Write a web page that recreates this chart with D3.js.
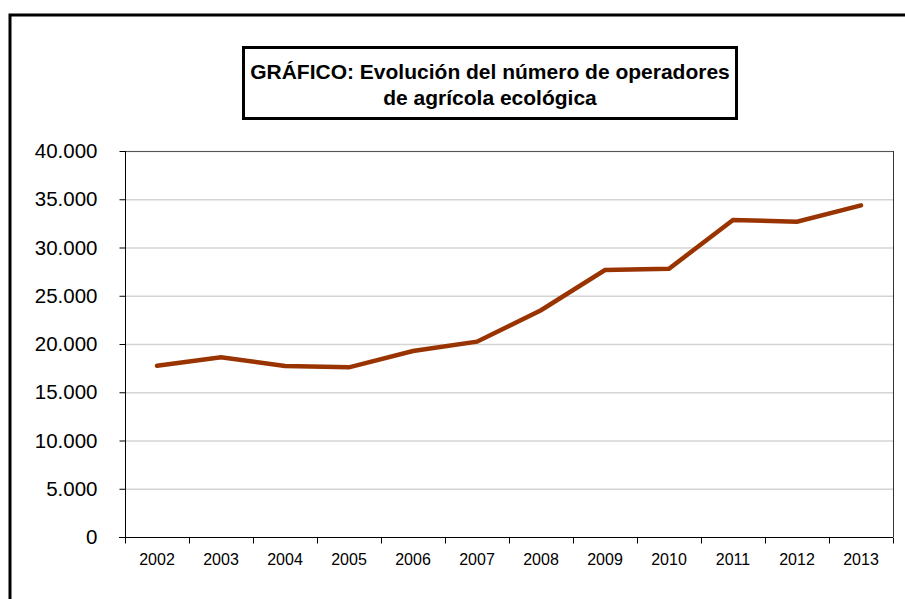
<!DOCTYPE html>
<html>
<head>
<meta charset="utf-8">
<script src="https://cdn.jsdelivr.net/npm/d3@7"></script>
<style>
  body { margin: 0; background: #fff; }
  svg { display: block; font-family: Arial, "Liberation Sans", sans-serif; }
</style>
</head>
<body>
<svg id="canvas" width="905" height="599"></svg>
<script>
// datos
let years = ['2002','2003','2004','2005','2006','2007','2008','2009','2010','2011','2012','2013']
let operadores = [17750, 18620, 17720, 17580, 19270, 20240, 23500, 27670, 27800, 32850, 32680, 34370]
let yTicks = [0, 5000, 10000, 15000, 20000, 25000, 30000, 35000, 40000]

let width = 905
let height = 599
let plot = {left: 125, right: 893, top: 151, bottom: 537}

let canvas = d3.select('#canvas')

// marco exterior
canvas.append('rect')
  .attr('x', 10).attr('y', 15)
  .attr('width', 920).attr('height', 620)
  .attr('fill', 'none')
  .attr('stroke', '#000')
  .attr('stroke-width', 3)

let xScale = d3.scaleBand()
  .domain(years)
  .range([plot.left, plot.right])

let yScale = d3.scaleLinear()
  .domain([0, 40000])
  .range([plot.bottom, plot.top])

let fmt = d => d3.format(',')(d).replace(/,/g, '.')

// lineas de cuadricula
canvas.append('g')
  .selectAll('line')
  .data(yTicks.filter(d => d > 0))
  .enter()
  .append('line')
  .attr('x1', plot.left).attr('x2', plot.right)
  .attr('y1', d => yScale(d) + 0.5).attr('y2', d => yScale(d) + 0.5)
  .attr('stroke', '#d4d4d4')
  .attr('stroke-width', 1.5)

// borde del area de trazado
canvas.append('line')
  .attr('x1', plot.right + 0.5).attr('x2', plot.right + 0.5)
  .attr('y1', plot.top).attr('y2', plot.bottom)
  .attr('stroke', '#333')
canvas.append('line')
  .attr('x1', plot.left).attr('x2', plot.right)
  .attr('y1', plot.top + 0.5).attr('y2', plot.top + 0.5)
  .attr('stroke', '#555')

// eje y
let yAxis = d3.axisLeft(yScale)
  .tickValues(yTicks)
  .tickFormat(fmt)
  .tickSize(6)
  .tickPadding(22)
canvas.append('g')
  .attr('transform', 'translate(' + (plot.left + 0.5) + ',0)')
  .call(yAxis)
  .call(g => g.selectAll('text').attr('font-size', 20.5).attr('fill', '#000').attr('font-family', 'Arial, "Liberation Sans", sans-serif'))
  .call(g => g.select('.domain').attr('stroke', '#000').attr('d', 'M0,' + plot.top + 'V' + plot.bottom))

// eje x, marcas entre categorias
let xAxis = d3.axisBottom(xScale).tickSize(0).tickPadding(16)
let gx = canvas.append('g')
  .attr('transform', 'translate(0,' + (plot.bottom + 0.5) + ')')
  .call(xAxis)
gx.selectAll('text').attr('font-size', 16).attr('fill', '#000').attr('font-family', 'Arial, "Liberation Sans", sans-serif')
gx.select('.domain').attr('stroke', '#000').attr('d', 'M' + (plot.left - 6) + ',0H' + plot.right)
gx.selectAll('line.sep')
  .data(years.concat(['end']))
  .enter()
  .append('line')
  .attr('class', 'sep')
  .attr('x1', (d, i) => Math.round(plot.left + i * xScale.bandwidth()) + 0.5)
  .attr('x2', (d, i) => Math.round(plot.left + i * xScale.bandwidth()) + 0.5)
  .attr('y1', 0).attr('y2', 6)
  .attr('stroke', '#000')

// linea de datos
let line = d3.line()
  .x((d, i) => xScale(years[i]) + xScale.bandwidth() / 2)
  .y(d => yScale(d))

canvas.append('path')
  .datum(operadores)
  .attr('d', line)
  .attr('fill', 'none')
  .attr('stroke', '#993300')
  .attr('stroke-width', 4.5)
  .attr('stroke-linejoin', 'miter')
  .attr('stroke-linecap', 'round')

// cuadro del titulo
canvas.append('rect')
  .attr('x', 243.5).attr('y', 47.5)
  .attr('width', 493).attr('height', 71)
  .attr('fill', '#fff')
  .attr('stroke', '#000')
  .attr('stroke-width', 3)

let title = canvas.append('text')
  .attr('text-anchor', 'middle')
  .attr('font-weight', 'bold')
  .attr('font-size', 21)
  .attr('fill', '#000')
title.append('tspan').attr('x', 490).attr('y', 79).text('GRÁFICO: Evolución del número de operadores')
title.append('tspan').attr('x', 490).attr('y', 105).text('de agrícola ecológica')
</script>
</body>
</html>
